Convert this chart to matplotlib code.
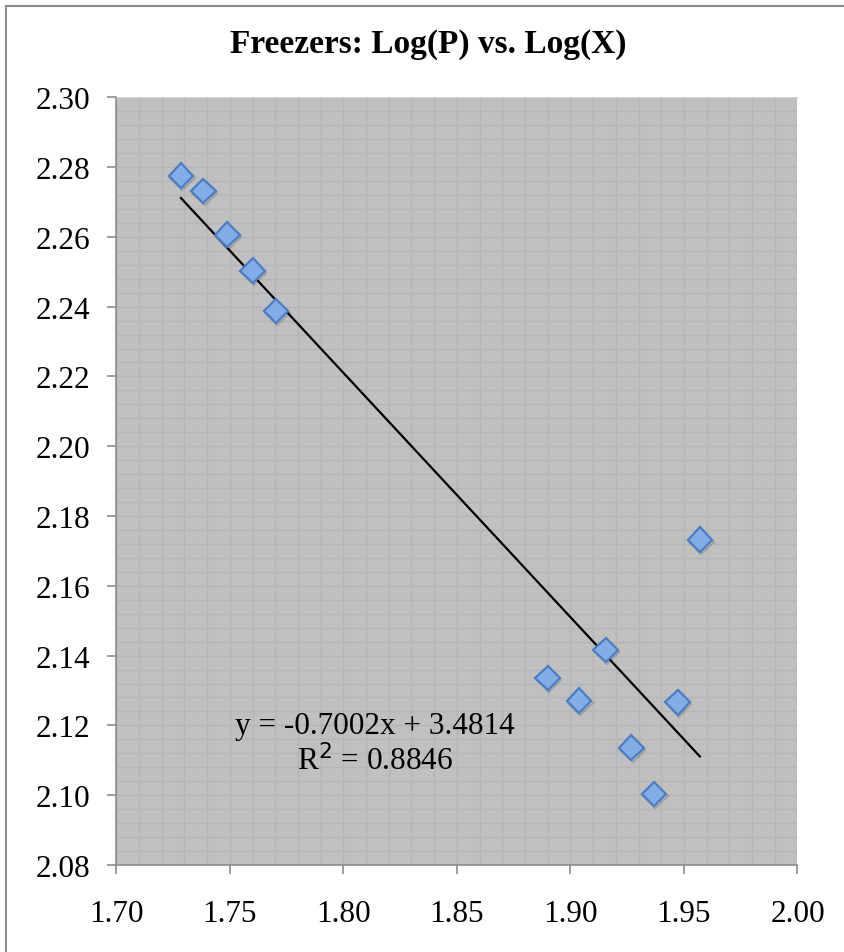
import matplotlib
matplotlib.use("Agg")
import matplotlib.pyplot as plt
import matplotlib.patheffects as pe
from matplotlib.ticker import MultipleLocator
from matplotlib.lines import Line2D

# Log(X) and Log(P) values
log_x = [1.7285, 1.7383, 1.7489, 1.7600, 1.7703, 1.8900,
         1.9038, 1.9155, 1.9268, 1.9368, 1.9472, 1.9570]
log_p = [2.2775, 2.2732, 2.2606, 2.2503, 2.2388, 2.1336,
         2.1271, 2.1416, 2.1136, 2.1004, 2.1266, 2.1732]

# linear trendline as given on the chart
slope = -0.7002
intercept = 3.4814
r_squared = 0.8846

title = "Freezers: Log(P) vs. Log(X)"

plt.rcParams['font.family'] = ['Liberation Serif', 'DejaVu Serif']

fig = plt.figure(figsize=(8.44, 9.53), dpi=100)
ax = fig.add_axes([0.1378, 0.0913, 0.8071, 0.8056])

# Excel-style grey plot area with minor grid
ax.set_facecolor('#c0c0c0')
ax.set_xlim(1.70, 2.00)
ax.set_ylim(2.08, 2.30)
ax.xaxis.set_major_locator(MultipleLocator(0.05))
ax.xaxis.set_minor_locator(MultipleLocator(0.01))
ax.yaxis.set_major_locator(MultipleLocator(0.02))
ax.yaxis.set_minor_locator(MultipleLocator(0.004))
ax.grid(True, which='both', color='#b5b5b5', linewidth=1.0)
ax.set_axisbelow(True)
ax.xaxis.set_major_formatter(plt.FormatStrFormatter('%.2f'))
ax.yaxis.set_major_formatter(plt.FormatStrFormatter('%.2f'))

ax.tick_params(which='major', direction='out', length=6.5, width=1.2,
               color='#8c8c8c', labelsize=22.5, pad=12)
ax.tick_params(which='minor', length=0)
ax.tick_params(axis='x', pad=18)
for side in ['left', 'bottom']:
    ax.spines[side].set_color('#8c8c8c')
    ax.spines[side].set_linewidth(1.2)
ax.spines['top'].set_color('#d4d4d4')
ax.spines['right'].set_visible(False)

# trendline over the data range
x0, x1 = min(log_x), max(log_x)
ax.plot([x0, x1], [slope * x0 + intercept, slope * x1 + intercept],
        color='black', linewidth=1.6, zorder=3)

ax.plot(log_x, log_p, linestyle='none', marker='D', markersize=12.5,
        markerfacecolor='#83ade6', markeredgecolor='#4a7ec4',
        markeredgewidth=1.6, zorder=4,
        path_effects=[pe.SimpleLineShadow(offset=(1, -1.5), alpha=0.15),
                      pe.Normal()])

# trendline label
ax.text(1.814, 2.1200, f"y = {slope:.4f}x + {intercept:.4f}",
        ha='center', va='center', fontsize=22.5, zorder=5)
ax.text(1.814, 2.1100, f"R$^2$ = {r_squared:.4f}",
        ha='center', va='center', fontsize=22.5, zorder=5)

fig.text(0.507, 0.953, title, ha='center', va='center',
         fontsize=24, fontweight='bold')

# chart border (left and top edges visible in the source)
fig.add_artist(Line2D([6 / 844, 6 / 844], [0, 1 - 7 / 953],
                      transform=fig.transFigure, color='#8c8c8c', linewidth=1.5))
fig.add_artist(Line2D([6 / 844, 1], [1 - 7 / 953, 1 - 7 / 953],
                      transform=fig.transFigure, color='#8c8c8c', linewidth=1.5))

fig.savefig('out.png', dpi=100)
